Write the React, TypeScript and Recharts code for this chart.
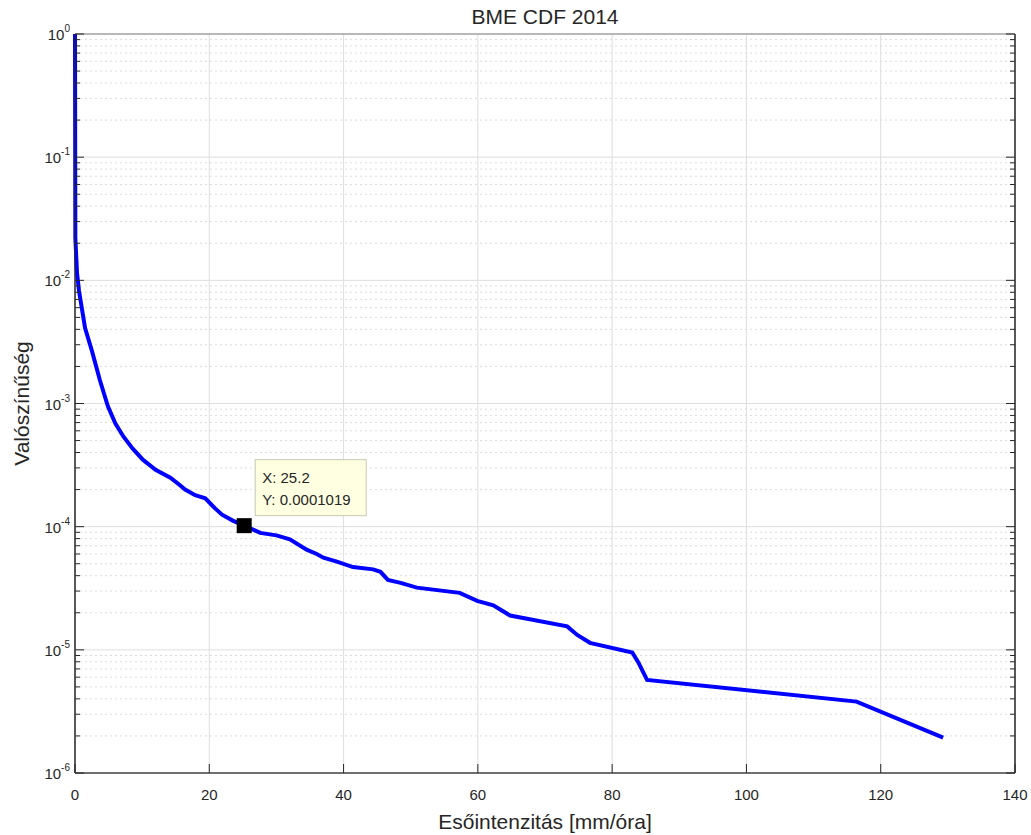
import React from 'react';
import { LineChart, Line, XAxis, YAxis, CartesianGrid, ReferenceLine, ReferenceArea, ReferenceDot } from 'recharts';

// intensity [mm/h] and exceedance probability
const intensity = [
  0, 0.05, 0.3, 0.6, 1.5, 2.5, 3.7, 4.9, 6, 7.2, 8.6, 10.1, 12, 14.2, 15.5, 16.4, 17.9, 19.4,
  20.9, 21.9, 23.5, 25.2, 27.6, 30, 32, 34.5, 36, 37, 39, 41.4, 44.4, 45.5, 46.6, 48.5, 50.9,
  57.3, 59.9, 62.3, 64.8, 73.3, 74.8, 76.7, 83, 83.9, 85.2, 116.4, 129.3,
];
const probability = [
  1, 0.022, 0.0115, 0.0082, 0.0041, 0.0027, 0.00155, 0.00095, 0.00069, 0.00054, 0.00043, 0.00035,
  0.00029, 0.00025, 0.00022, 0.0002, 0.00018, 0.00017, 0.00014, 0.000125, 0.000112, 0.0001019,
  0.000089, 0.000085, 0.000079, 0.000065, 0.00006, 0.000056, 0.000052, 0.000047, 0.000045,
  0.000043, 0.000037, 0.000035, 0.000032, 0.000029, 0.000025, 0.000023, 0.000019, 0.0000155,
  0.0000132, 0.0000114, 0.0000095, 0.0000079, 0.0000057, 0.0000038, 0.00000194,
];

const xTicks = [0, 20, 40, 60, 80, 100, 120, 140];
const decadeExps = [-6, -5, -4, -3, -2, -1, 0];
const minorMults = [2, 3, 4, 5, 6, 7, 8, 9];

const dataTip = { x: 25.2, y: 0.0001019 };

const data = intensity.map((x, i) => ({ x, p: probability[i] }));
const majorY = decadeExps.map((e) => Math.pow(10, e));
const minorY = decadeExps.slice(0, -1).flatMap((e) => minorMults.map((m) => m * Math.pow(10, e)));
const allY = [...majorY, ...minorY].sort((a, b) => a - b);

const FONT = '"Liberation Sans", Arial, Helvetica, sans-serif';
const AX = '#262626';

const isMajor = (v: number) => majorY.some((m) => Math.abs(m - v) / m < 1e-6);

const LeftTick = ({ x, y, payload }: any) => {
  const major = isMajor(payload.value);
  const exp = Math.round(Math.log10(payload.value));
  return (
    <g>
      <line x1={x} x2={x + (major ? 9 : 5)} y1={y} y2={y} stroke={AX} />
      {major && (
        <text x={x - 5} y={y + 6} textAnchor="end" fill={AX} fontSize={15} fontFamily={FONT}>
          10<tspan dy={-8} fontSize={10}>{exp}</tspan>
        </text>
      )}
    </g>
  );
};

const RightTick = ({ x, y, payload }: any) => {
  const major = isMajor(payload.value);
  return <line x1={x} x2={x - (major ? 9 : 5)} y1={y} y2={y} stroke={AX} />;
};

const BottomTick = ({ x, y, payload }: any) => (
  <g>
    <line x1={x} x2={x} y1={y} y2={y - 9} stroke={AX} />
    <text x={x} y={y + 27} textAnchor="middle" fill={AX} fontSize={15} fontFamily={FONT}>
      {payload.value}
    </text>
  </g>
);

const TopTick = ({ x, y }: any) => <line x1={x} x2={x} y1={y} y2={y + 9} stroke={AX} />;

const DataTipShape = ({ cx, cy }: any) => (
  <g>
    <rect x={cx + 11} y={cy - 66} width={111} height={56} fill="#ffffe1" stroke="#c8c8b4" />
    <text x={cx + 18} y={cy - 43} fill={AX} fontSize={15} fontFamily={FONT}>X: {dataTip.x}</text>
    <text x={cx + 18} y={cy - 21} fill={AX} fontSize={15} fontFamily={FONT}>Y: {dataTip.y}</text>
    <rect x={cx - 7.5} y={cy - 7.5} width={15} height={15} fill="#000" />
  </g>
);

export default function App() {
  return (
    <div style={{ position: 'absolute', left: 0, top: 0, width: 1031, height: 835, background: '#fff' }}>
      <LineChart width={1031} height={835} data={data} margin={{ top: 34, right: 0, left: 0, bottom: 0 }}>
        <CartesianGrid horizontal={false} stroke="#dedede" strokeDasharray="" xAxisId="b" yAxisId="l" />
        {minorY.map((v) => (
          <ReferenceLine key={`mn${v}`} xAxisId="b" yAxisId="l" y={v} stroke="#dcdcdc" strokeDasharray="2 3" />
        ))}
        {majorY.map((v) => (
          <ReferenceLine key={`mj${v}`} xAxisId="b" yAxisId="l" y={v} stroke="#dedede" />
        ))}
        <XAxis
          xAxisId="b"
          dataKey="x"
          type="number"
          domain={[0, 140]}
          ticks={xTicks}
          interval={0}
          height={62}
          tickSize={0}
          tickMargin={0}
          stroke={AX}
          tick={<BottomTick />}
          label={{
            value: 'Esőintenzitás [mm/óra]',
            position: 'insideBottom',
            offset: 6,
            fill: AX,
            fontSize: 21,
            fontFamily: FONT,
          }}
        />
        <XAxis
          xAxisId="t"
          orientation="top"
          dataKey="x"
          type="number"
          domain={[0, 140]}
          ticks={xTicks}
          interval={0}
          height={0}
          tickSize={0}
          tickMargin={0}
          stroke={AX}
          tick={<TopTick />}
        />
        <YAxis
          yAxisId="l"
          dataKey="p"
          scale="log"
          domain={[1e-6, 1]}
          allowDataOverflow
          ticks={allY}
          interval={0}
          width={75}
          tickSize={0}
          tickMargin={0}
          stroke={AX}
          tick={<LeftTick />}
          label={{
            content: ({ viewBox }: any) => (
              <text
                x={29}
                y={viewBox.y + viewBox.height / 2}
                transform={`rotate(-90 29 ${viewBox.y + viewBox.height / 2})`}
                textAnchor="middle"
                fill={AX}
                fontSize={21}
                fontFamily={FONT}
              >
                Valószínűség
              </text>
            ),
          }}
        />
        <YAxis
          yAxisId="r"
          orientation="right"
          scale="log"
          domain={[1e-6, 1]}
          allowDataOverflow
          ticks={allY}
          interval={0}
          width={16}
          tickSize={0}
          tickMargin={0}
          stroke={AX}
          tick={<RightTick />}
        />
        <ReferenceArea
          xAxisId="b"
          yAxisId="l"
          x1={0}
          x2={140}
          y1={1e-6}
          y2={1}
          fill="none"
          stroke={AX}
          fillOpacity={0}
          ifOverflow="visible"
          label={{ value: 'BME CDF 2014', position: 'top', offset: 10, fill: AX, fontSize: 21, fontFamily: FONT }}
        />
        <Line
          xAxisId="b"
          yAxisId="l"
          dataKey="p"
          type="linear"
          stroke="#0000ff"
          strokeWidth={4}
          dot={false}
          isAnimationActive={false}
        />
        <ReferenceDot
          xAxisId="b"
          yAxisId="l"
          x={dataTip.x}
          y={dataTip.y}
          ifOverflow="visible"
          shape={<DataTipShape />}
        />
      </LineChart>
    </div>
  );
}
